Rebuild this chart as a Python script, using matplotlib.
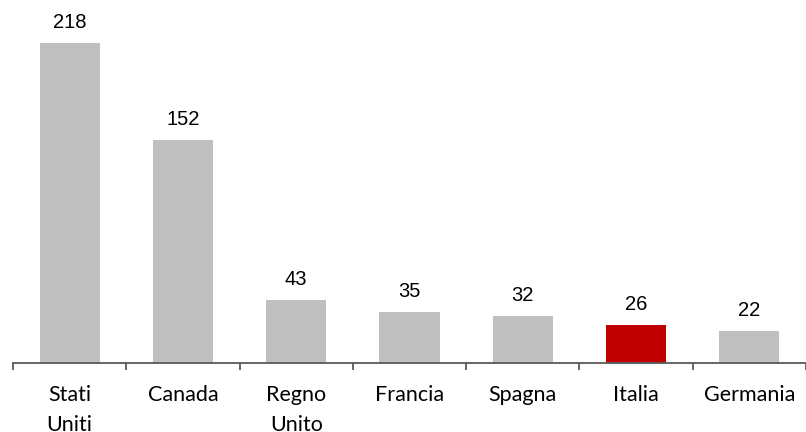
import matplotlib
matplotlib.use("Agg")
import matplotlib.pyplot as plt
import numpy as np

# data
paesi = ["Stati\nUniti", "Canada", "Regno\nUnito", "Francia", "Spagna", "Italia", "Germania"]
valori = [218, 152, 43, 35, 32, 26, 22]
colori = ["#BFBFBF", "#BFBFBF", "#BFBFBF", "#BFBFBF", "#BFBFBF", "#C00000", "#BFBFBF"]

fig = plt.figure(figsize=(8.06, 4.32), dpi=100)
ax = fig.add_axes([13 / 806, 1 - 363 / 432, 1 - 13 / 806, 363 / 432])

x = np.arange(len(paesi))
bars = ax.bar(x, valori, width=0.53, color=colori, zorder=2)

for xi, v in zip(x, valori):
    ax.text(xi, v + 7.5, str(v), ha="center", va="bottom",
            fontsize=14.5, family="Liberation Sans", color="#000000")

ax.set_xlim(-0.5, len(paesi) - 0.5)
ax.set_ylim(0, 247)

for s in ["top", "right", "left"]:
    ax.spines[s].set_visible(False)
ax.spines["bottom"].set_color("#595959")
ax.spines["bottom"].set_linewidth(1.3)
ax.set_yticks([])

ax.set_xticks(x)
ax.set_xticklabels(paesi, fontsize=15.5, family="Lato", linespacing=1.64)
ax.tick_params(axis="x", which="major", length=0, pad=16)
ax.set_xticks(np.arange(-0.5, len(paesi)), minor=True)
ax.tick_params(axis="x", which="minor", length=5, width=1.3, color="#595959")

fig.savefig("out.png", dpi=100)
